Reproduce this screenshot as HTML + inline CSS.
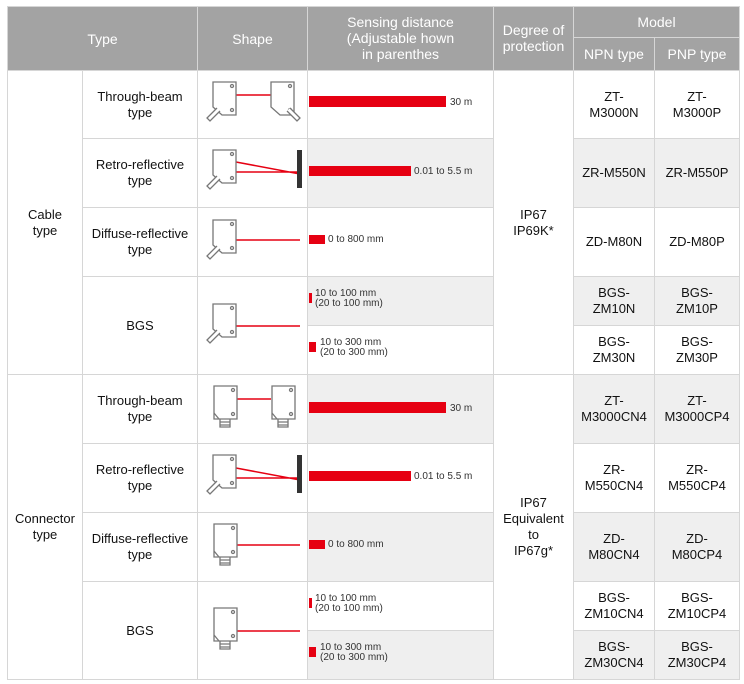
<!DOCTYPE html>
<html><head><meta charset="utf-8"><style>
body{margin:0;width:744px;height:684px;background:#fff;font-family:"Liberation Sans",Arial,sans-serif;position:relative;overflow:hidden}
.c{position:absolute;box-sizing:border-box;display:flex;align-items:center;justify-content:center;text-align:center;border-right:1px solid #d6d6d6;border-bottom:1px solid #d6d6d6;font-size:13px;line-height:16px;color:#111}
.h{background:#a3a3a3;color:#fff;font-size:14px;line-height:16px;border-color:#d6d6d6}
.g{background:#efefef}
.s{justify-content:flex-start}
.bar{position:absolute;background:#e60012}
.t{position:absolute;font-size:10px;line-height:10px;color:#333;white-space:nowrap}
svg{position:absolute}
</style></head><body>
<div style="position:absolute;left:7px;top:6px;width:1px;height:674px;background:#d6d6d6"></div>
<div style="position:absolute;left:7px;top:6px;width:733px;height:1px;background:#d6d6d6"></div>
<!-- header -->
<div class="c h" style="left:8px;top:7px;width:190px;height:64px">Type</div>
<div class="c h" style="left:198px;top:7px;width:110px;height:64px">Shape</div>
<div class="c h" style="left:308px;top:7px;width:186px;height:64px;align-items:flex-start;padding-top:7px">Sensing distance<br>(Adjustable hown<br>in parenthes</div>
<div class="c h" style="left:494px;top:7px;width:80px;height:64px;padding-bottom:2px">Degree of<br>protection</div>
<div class="c h" style="left:574px;top:7px;width:166px;height:31px">Model</div>
<div class="c h" style="left:574px;top:38px;width:81px;height:33px">NPN type</div>
<div class="c h" style="left:655px;top:38px;width:85px;height:33px">PNP type</div>

<!-- cable -->
<div class="c" style="left:8px;top:71px;width:75px;height:304px">Cable<br>type</div>
<div class="c" style="left:83px;top:71px;width:115px;height:68px">Through-beam<br>type</div>
<div class="c" style="left:83px;top:139px;width:115px;height:69px">Retro-reflective<br>type</div>
<div class="c" style="left:83px;top:208px;width:115px;height:69px">Diffuse-reflective<br>type</div>
<div class="c" style="left:83px;top:277px;width:115px;height:98px">BGS</div>
<div class="c" style="left:198px;top:71px;width:110px;height:68px"></div>
<div class="c" style="left:198px;top:139px;width:110px;height:69px"></div>
<div class="c" style="left:198px;top:208px;width:110px;height:69px"></div>
<div class="c" style="left:198px;top:277px;width:110px;height:98px"></div>
<div class="c" style="left:308px;top:71px;width:186px;height:68px"></div>
<div class="c g" style="left:308px;top:139px;width:186px;height:69px"></div>
<div class="c" style="left:308px;top:208px;width:186px;height:69px"></div>
<div class="c g" style="left:308px;top:277px;width:186px;height:49px"></div>
<div class="c" style="left:308px;top:326px;width:186px;height:49px"></div>
<div class="c" style="left:494px;top:71px;width:80px;height:304px">IP67<br>IP69K*</div>
<div class="c" style="left:574px;top:71px;width:81px;height:68px">ZT-<br>M3000N</div>
<div class="c" style="left:655px;top:71px;width:85px;height:68px">ZT-<br>M3000P</div>
<div class="c g" style="left:574px;top:139px;width:81px;height:69px">ZR-M550N</div>
<div class="c g" style="left:655px;top:139px;width:85px;height:69px">ZR-M550P</div>
<div class="c" style="left:574px;top:208px;width:81px;height:69px">ZD-M80N</div>
<div class="c" style="left:655px;top:208px;width:85px;height:69px">ZD-M80P</div>
<div class="c g" style="left:574px;top:277px;width:81px;height:49px">BGS-<br>ZM10N</div>
<div class="c g" style="left:655px;top:277px;width:85px;height:49px">BGS-<br>ZM10P</div>
<div class="c" style="left:574px;top:326px;width:81px;height:49px">BGS-<br>ZM30N</div>
<div class="c" style="left:655px;top:326px;width:85px;height:49px">BGS-<br>ZM30P</div>

<!-- connector -->
<div class="c" style="left:8px;top:375px;width:75px;height:305px">Connector<br>type</div>
<div class="c" style="left:83px;top:375px;width:115px;height:69px">Through-beam<br>type</div>
<div class="c" style="left:83px;top:444px;width:115px;height:69px">Retro-reflective<br>type</div>
<div class="c" style="left:83px;top:513px;width:115px;height:69px">Diffuse-reflective<br>type</div>
<div class="c" style="left:83px;top:582px;width:115px;height:98px">BGS</div>
<div class="c" style="left:198px;top:375px;width:110px;height:69px"></div>
<div class="c" style="left:198px;top:444px;width:110px;height:69px"></div>
<div class="c" style="left:198px;top:513px;width:110px;height:69px"></div>
<div class="c" style="left:198px;top:582px;width:110px;height:98px"></div>
<div class="c g" style="left:308px;top:375px;width:186px;height:69px"></div>
<div class="c" style="left:308px;top:444px;width:186px;height:69px"></div>
<div class="c g" style="left:308px;top:513px;width:186px;height:69px"></div>
<div class="c" style="left:308px;top:582px;width:186px;height:49px"></div>
<div class="c g" style="left:308px;top:631px;width:186px;height:49px"></div>
<div class="c" style="left:494px;top:375px;width:80px;height:305px">IP67<br>Equivalent<br>to<br>IP67g*</div>
<div class="c g" style="left:574px;top:375px;width:81px;height:69px">ZT-<br>M3000CN4</div>
<div class="c g" style="left:655px;top:375px;width:85px;height:69px">ZT-<br>M3000CP4</div>
<div class="c" style="left:574px;top:444px;width:81px;height:69px">ZR-<br>M550CN4</div>
<div class="c" style="left:655px;top:444px;width:85px;height:69px">ZR-<br>M550CP4</div>
<div class="c g" style="left:574px;top:513px;width:81px;height:69px">ZD-<br>M80CN4</div>
<div class="c g" style="left:655px;top:513px;width:85px;height:69px">ZD-<br>M80CP4</div>
<div class="c" style="left:574px;top:582px;width:81px;height:49px">BGS-<br>ZM10CN4</div>
<div class="c" style="left:655px;top:582px;width:85px;height:49px">BGS-<br>ZM10CP4</div>
<div class="c g" style="left:574px;top:631px;width:81px;height:49px">BGS-<br>ZM30CN4</div>
<div class="c g" style="left:655px;top:631px;width:85px;height:49px">BGS-<br>ZM30CP4</div>

<!-- bars -->
<div class="bar" style="left:309px;top:96px;width:137px;height:11px"></div><div class="t" style="left:450px;top:98px">30 m</div>
<div class="bar" style="left:309px;top:166px;width:102px;height:10px"></div><div class="t" style="left:414px;top:167px">0.01 to 5.5 m</div>
<div class="bar" style="left:309px;top:235px;width:16px;height:9px"></div><div class="t" style="left:328px;top:235px">0 to 800 mm</div>
<div class="bar" style="left:309px;top:293px;width:3px;height:10px"></div><div class="t" style="left:315px;top:289px">10 to 100 mm<br>(20 to 100 mm)</div>
<div class="bar" style="left:309px;top:342px;width:7px;height:10px"></div><div class="t" style="left:320px;top:338px">10 to 300 mm<br>(20 to 300 mm)</div>

<div class="bar" style="left:309px;top:402px;width:137px;height:11px"></div><div class="t" style="left:450px;top:404px">30 m</div>
<div class="bar" style="left:309px;top:471px;width:102px;height:10px"></div><div class="t" style="left:414px;top:472px">0.01 to 5.5 m</div>
<div class="bar" style="left:309px;top:540px;width:16px;height:9px"></div><div class="t" style="left:328px;top:540px">0 to 800 mm</div>
<div class="bar" style="left:309px;top:598px;width:3px;height:10px"></div><div class="t" style="left:315px;top:594px">10 to 100 mm<br>(20 to 100 mm)</div>
<div class="bar" style="left:309px;top:647px;width:7px;height:10px"></div><div class="t" style="left:320px;top:643px">10 to 300 mm<br>(20 to 300 mm)</div>

<svg width="744" height="684" style="left:0;top:0" fill="none" stroke="#777" stroke-width="1.3">
<defs>
<g id="sc"><path d="M0 0h23v33h-14l-9-8z" fill="#fff"/><circle cx="19" cy="4" r="1.5"/><circle cx="19" cy="28" r="1.5"/><path d="M4 26l-10 10l3 3l10-10" fill="#fff"/></g>
<g id="sk"><path d="M0 0h23v33h-23z" fill="#fff"/><path d="M0 27l5 6"/><circle cx="19" cy="4" r="1.5"/><circle cx="19" cy="28" r="1.5"/><path d="M6 33v8h10v-8M6 36h10M6 39h10"/></g>
<g id="scr"><path d="M0 0h23v33h-14l-9-8z" fill="#fff"/><circle cx="19" cy="4" r="1.5"/><circle cx="19" cy="28" r="1.5"/><path d="M19 26l10 10l-3 3l-10-10" fill="#fff"/></g>
</defs>
<g stroke="#e60012" stroke-width="1.5">
<path d="M236 95h35"/>
<path d="M236 162l64 12M236 172h64"/>
<path d="M236 240h64"/>
<path d="M236 326h64"/>
<path d="M236 399h35"/>
<path d="M236 468l64 12M236 478h64"/>
<path d="M236 545h64"/>
<path d="M236 631h64"/>
</g>
<use href="#sc" x="213" y="82"/><use href="#scr" x="271" y="82"/>
<use href="#sc" x="213" y="150"/><rect x="297" y="150" width="5" height="38" fill="#333" stroke="none"/>
<use href="#sc" x="213" y="220"/>
<use href="#sc" x="213" y="304"/>
<use href="#sk" x="214" y="386"/><use href="#sk" x="272" y="386"/>
<use href="#sc" x="213" y="455"/><rect x="297" y="455" width="5" height="38" fill="#333" stroke="none"/>
<use href="#sk" x="214" y="524"/>
<use href="#sk" x="214" y="608"/>
</svg>
</body></html>
